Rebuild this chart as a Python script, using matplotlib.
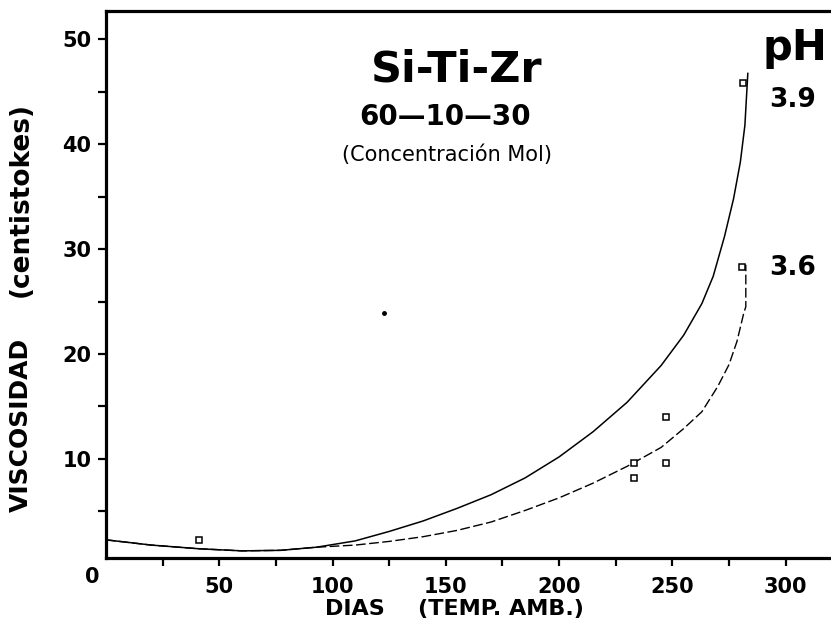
import matplotlib
matplotlib.use("Agg")
import matplotlib.pyplot as plt
from matplotlib.ticker import FixedLocator

# ---- data ----
upper_x = [0, 20, 41, 60, 77, 93, 110, 125, 140, 155, 170, 185, 200, 215, 230, 245,
           255, 263, 268, 273, 277, 280, 282, 283.3]
upper_y = [2.3, 1.8, 1.45, 1.25, 1.3, 1.6, 2.2, 3.1, 4.1, 5.3, 6.6, 8.2, 10.2, 12.6, 15.4, 18.9,
           21.8, 24.8, 27.4, 31.2, 34.8, 38.3, 41.8, 46.8]

lower_x = [0, 20, 41, 60, 77, 93, 110, 125, 140, 155, 170, 185, 200, 215, 230, 245,
           255, 263, 270, 275, 278.5, 281.5, 282.4, 282.4]
lower_y = [2.3, 1.8, 1.45, 1.25, 1.3, 1.6, 1.8, 2.15, 2.6, 3.2, 4.0, 5.1, 6.3, 7.7, 9.3, 11.1,
           12.9, 14.5, 16.9, 19.0, 21.2, 23.9, 24.5, 28.5]

pts_x = [41, 233, 233, 247, 247, 281, 280.6]
pts_y = [2.3, 9.6, 8.2, 14.0, 9.6, 45.8, 28.3]

stray_x = [122.9]
stray_y = [23.9]

xticks_major = [50, 100, 150, 200, 250, 300]
xticks_minor = [25, 75, 125, 175, 225, 275]
yticks_major = [10, 20, 30, 40, 50]
yticks_minor = [5, 15, 25, 35, 45]

W, H = 831, 624
fig = plt.figure(figsize=(W / 100, H / 100), dpi=100)
ax = fig.add_axes([106 / W, 66 / H, 725 / W, 547 / H])

ax.plot(upper_x, upper_y, color="black", lw=1.1, solid_capstyle="butt")
ax.plot(lower_x, lower_y, color="black", lw=1.0, linestyle=(0, (7, 2.5)))
ax.plot(pts_x, pts_y, linestyle="none", marker="s", markersize=4,
        markerfacecolor="white", markeredgecolor="black", markeredgewidth=1.1)
ax.plot(stray_x, stray_y, linestyle="none", marker="o", markersize=2.5, color="black")

ax.set_xlim(0, 320)
ax.set_ylim(0.57, 52.67)

ax.xaxis.set_major_locator(FixedLocator(xticks_major))
ax.xaxis.set_minor_locator(FixedLocator(xticks_minor))
ax.yaxis.set_major_locator(FixedLocator(yticks_major))
ax.yaxis.set_minor_locator(FixedLocator(yticks_minor))

ax.tick_params(axis="both", which="both", direction="out", length=5.5, width=1.6, color="black")
ax.tick_params(axis="x", which="major", pad=8)
ax.tick_params(axis="y", which="major", pad=5)
ax.set_xticklabels([str(v) for v in xticks_major], fontsize=15, fontweight="bold")
ax.set_yticklabels([str(v) for v in yticks_major], fontsize=15, fontweight="bold")

for side in ["left", "bottom", "top"]:
    ax.spines[side].set_linewidth(2.3)
ax.spines["right"].set_visible(False)


def ftext(px, py, s, ha="center", va="center", **kw):
    fig.text(px / W, 1 - py / H, s, ha=ha, va=va, **kw)


ftext(92, 577, "0", fontsize=15, fontweight="bold")
ftext(325, 609, "DIAS", ha="left", fontsize=16, fontweight="bold")
ftext(418, 609, "(TEMP. AMB.)", ha="left", fontsize=16, fontweight="bold")
ftext(21, 512, "VISCOSIDAD", va="bottom", fontsize=18, fontweight="bold", rotation=90)
ftext(21, 297, "(centistokes)", va="bottom", fontsize=19, fontweight="bold", rotation=90)

ftext(457, 70, "Si-Ti-Zr", fontsize=31, fontweight="bold")
ftext(445, 117, "60\u201410\u201430", fontsize=20, fontweight="bold")
ftext(447, 155, "(Concentración Mol)", fontsize=15)
ftext(795, 48, "pH", fontsize=30, fontweight="bold")
ftext(793, 100, "3.9", fontsize=19, fontweight="bold")
ftext(793, 268, "3.6", fontsize=19, fontweight="bold")

fig.savefig("out.png", dpi=100)
